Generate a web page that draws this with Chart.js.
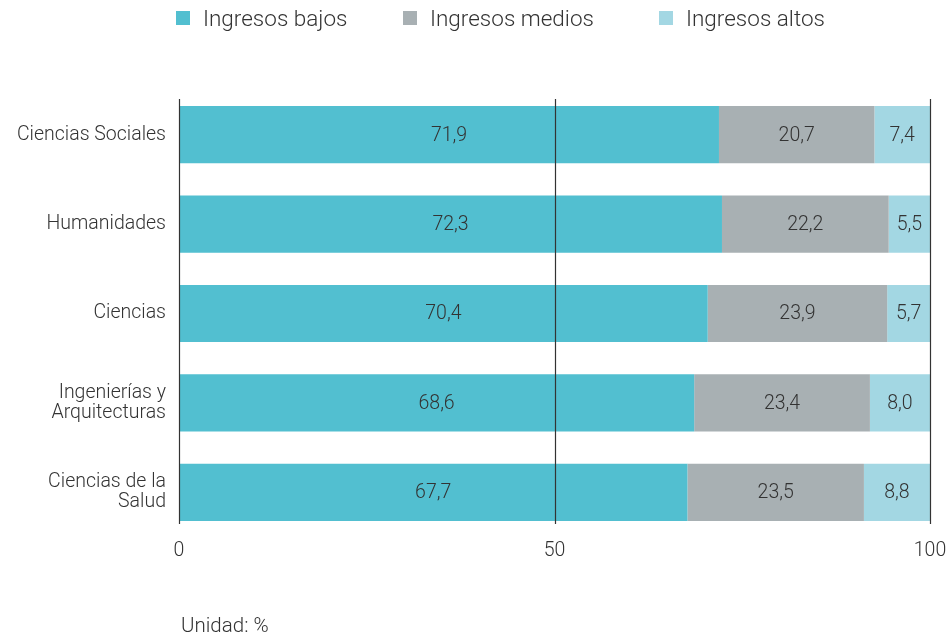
<!DOCTYPE html>
<html>
<head>
<meta charset="utf-8">
<script src="https://cdn.jsdelivr.net/npm/chart.js@4"></script>
<style>
  html, body { margin: 0; padding: 0; background: #fff; }
  #wrap { position: relative; width: 949px; height: 636px; }
  #legend { position: absolute; top: 5px; left: 0; width: 949px; height: 30px;
            font-family: 'Roboto', sans-serif; font-size: 22.5px; color: #333; font-weight: 300; }
  .item { position: absolute; top: 0; display: flex; align-items: center; }
  .box { width: 14px; height: 14px; margin-right: 13px; }
  #unit { position: absolute; left: 181px; top: 613px;
          font-family: 'Roboto', sans-serif; font-size: 20.5px; color: #333; font-weight: 300; }
</style>
</head>
<body>
<div id="wrap">
  <canvas id="chart" width="949" height="636"></canvas>
  <div id="legend"></div>
  <div id="unit">Unidad: %</div>
</div>
<script>
/* ─── Data ─────────────────────────────────────── */
const categories = [
  'Ciencias Sociales',
  'Humanidades',
  'Ciencias',
  ['Ingenierías y', 'Arquitecturas'],
  ['Ciencias de la', 'Salud']
];
const seriesNames  = ['Ingresos bajos', 'Ingresos medios', 'Ingresos altos'];
const bajos        = [71.9, 72.3, 70.4, 68.6, 67.7];
const medios       = [20.7, 22.2, 23.9, 23.4, 23.5];
const altos        = [7.4, 5.5, 5.7, 8.0, 8.8];
const xTicks       = [0, 50, 100];

const colors = ['#52BFD0', '#A8B0B3', '#A3D7E3'];
const FONT = "'Roboto', sans-serif";

/* ─── Value labels inside segments ─────────────── */
const valueLabels = {
  id: 'valueLabels',
  afterDatasetsDraw(chart) {
    const ctx = chart.ctx;
    ctx.save();
    ctx.font = '300 19.5px ' + FONT;
    ctx.fillStyle = '#333';
    ctx.textAlign = 'center';
    ctx.textBaseline = 'middle';
    chart.data.datasets.forEach((ds, di) => {
      chart.getDatasetMeta(di).data.forEach((bar, i) => {
        const x = (bar.x + bar.base) / 2;
        ctx.fillText(ds.data[i].toFixed(1).replace('.', ','), x, bar.y + 1);
      });
    });
    ctx.restore();
  }
};

/* ─── Vertical reference lines ─────────────────── */
const refLines = {
  id: 'refLines',
  afterDatasetsDraw(chart) {
    const { ctx, chartArea, scales } = chart;
    ctx.save();
    ctx.strokeStyle = '#333';
    ctx.lineWidth = 1.2;
    xTicks.forEach(v => {
      const x = Math.round(scales.x.getPixelForValue(v)) + 0.5;
      ctx.beginPath();
      ctx.moveTo(x, chartArea.top + 9);
      ctx.lineTo(x, chartArea.bottom - 13);
      ctx.stroke();
    });
    ctx.restore();
  }
};

const chart = new Chart(document.getElementById('chart'), {
  type: 'bar',
  data: {
    labels: categories,
    datasets: [bajos, medios, altos].map((d, i) => ({
      label: seriesNames[i],
      data: d,
      backgroundColor: colors[i],
      borderWidth: 0,
      barPercentage: 0.64,
      categoryPercentage: 1
    }))
  },
  options: {
    indexAxis: 'y',
    responsive: false,
    animation: false,
    layout: { padding: { top: 90, right: 19, bottom: 59, left: 0 } },
    plugins: {
      legend: { display: false },
      tooltip: { enabled: false }
    },
    scales: {
      x: {
        stacked: true,
        min: 0,
        max: 100,
        afterBuildTicks: s => { s.ticks = xTicks.map(v => ({ value: v })); },
        afterFit: s => { s.height = 40; },
        grid: { display: false, drawTicks: false },
        border: { display: false },
        ticks: { color: '#333', font: { family: FONT, size: 19.5, weight: '300' }, padding: 2 }
      },
      y: {
        stacked: true,
        afterFit: s => { s.width = 179; },
        grid: { display: false, drawTicks: false },
        border: { display: false },
        ticks: { color: '#333', font: { family: FONT, size: 19.5, weight: '300', lineHeight: 1.0 }, padding: 13 }
      }
    }
  },
  plugins: [valueLabels, refLines]
});

/* ─── HTML legend ──────────────────────────────── */
const legendX = [176, 403, 659];
const legend = document.getElementById('legend');
seriesNames.forEach((name, i) => {
  legend.innerHTML += `<div class="item" style="left:${legendX[i]}px">
    <span class="box" style="background:${colors[i]}"></span>${name}</div>`;
});
</script>
</body>
</html>
